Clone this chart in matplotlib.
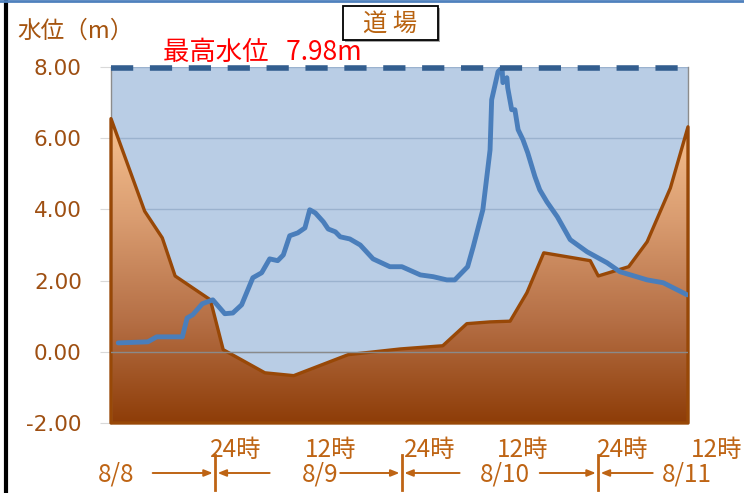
import numpy as np
import matplotlib
matplotlib.use('Agg')
import matplotlib.pyplot as plt
from matplotlib.colors import LinearSegmentedColormap
from matplotlib.patches import Polygon, Rectangle
from matplotlib.lines import Line2D
import matplotlib.transforms as mtransforms

plt.rcParams['font.family'] = ['DejaVu Sans', 'Noto Sans CJK JP']
JP = ['Noto Sans CJK JP', 'DejaVu Sans']

# ---- data (x in hours from 8/8 0:00) ----
hours = [11.9, 15.6, 16.7, 19.9, 20.5, 21.2, 22.4, 23.7, 25.2, 26.2, 27.3, 28.7,
         29.8, 30.8, 31.8, 32.5, 33.3, 34.3, 35.2, 35.8, 36.5, 37.5, 38.1, 39.0,
         39.6, 40.8, 42.1, 43.7, 45.8, 47.3, 49.6, 51.2, 52.9, 53.9, 55.5, 56.2,
         57.4, 58.3, 58.5, 59.3, 59.8, 59.9, 60.4, 60.5, 61.0, 61.4, 61.8, 62.4,
         63.0, 63.9, 64.5, 65.4, 66.7, 67.4, 68.3, 70.4, 72.9, 74.5, 77.9, 79.9, 82.9]
water_level = [0.25, 0.28, 0.42, 0.42, 0.95, 1.04, 1.35, 1.46, 1.07, 1.09, 1.32, 2.08,
               2.22, 2.61, 2.56, 2.72, 3.26, 3.34, 3.48, 3.99, 3.90, 3.65, 3.45, 3.37,
               3.23, 3.17, 3.00, 2.61, 2.39, 2.39, 2.16, 2.11, 2.02, 2.02, 2.39, 2.95,
               3.99, 5.67, 7.08, 7.87, 7.98, 7.56, 7.70, 7.42, 6.80, 6.80, 6.24, 5.96,
               5.59, 4.92, 4.55, 4.21, 3.79, 3.51, 3.15, 2.81, 2.50, 2.25, 2.02, 1.94, 1.60]

section_x = [11.0, 15.2, 17.4, 19.0, 23.4, 25.0, 30.2, 33.8, 40.6, 47.1, 52.4, 55.4,
             58.3, 60.8, 62.9, 65.0, 70.8, 71.8, 75.6, 77.9, 80.8, 83.0]
ground_level = [6.55, 3.95, 3.20, 2.13, 1.46, 0.06, -0.59, -0.67, -0.08, 0.08, 0.17, 0.79,
                0.84, 0.86, 1.66, 2.78, 2.56, 2.13, 2.39, 3.09, 4.60, 6.32]

max_level = 7.98
y_ticks = [-2, 0, 2, 4, 6, 8]
y_tick_labels = ['-2.00', '0.00', '2.00', '4.00', '6.00', '8.00']

time_labels = ['24時', '12時', '24時', '12時', '24時', '12時']
time_label_x = [23.4, 35.2, 47.5, 59.2, 71.6, 83.4]
date_labels = ['8/8', '8/9', '8/10', '8/11']
date_label_x = [11.6, 37.1, 60.2, 82.8]
day_bounds = [24.0, 47.3, 71.8]

W, H = 744, 493
fig = plt.figure(figsize=(W / 100, H / 100), dpi=100)
ax = fig.add_axes([111 / W, 1 - 423 / H, 577 / W, 356 / H])
ax.set_facecolor('#B9CDE5')
ax.set_xlim(11, 83)
ax.set_ylim(-2, 8)

# gradient ground fill
verts = [(section_x[0], -2)] + list(zip(section_x, ground_level)) + [(section_x[-1], -2)]
clip = Polygon(verts, closed=True, facecolor='none', edgecolor='none')
ax.add_patch(clip)
grad = np.linspace(0, 1, 256).reshape(-1, 1)
cmap = LinearSegmentedColormap.from_list('g', ['#8E3D08', '#B56F45', '#D99C70', '#F8C290'])
im = ax.imshow(grad, extent=[11, 83, -2, max(ground_level)], origin='lower', cmap=cmap,
               aspect='auto', zorder=2, interpolation='bilinear')
im.set_clip_path(clip)
outline = Polygon(verts, closed=True, fill=False, edgecolor='#984807', lw=2.4, zorder=3,
                  joinstyle='round', clip_on=False)
ax.add_patch(outline)

ax.set_yticks(y_ticks)
ax.set_yticklabels(y_tick_labels)
ax.yaxis.grid(True, color='#9BB2CE', lw=1)
ax.set_axisbelow(True)
ax.axhline(0, color='#8A8A8A', lw=1, zorder=3.5)

ax.plot(hours, water_level, color='#4A7EBB', lw=3.5, zorder=4,
        solid_joinstyle='round', solid_capstyle='round')
ax.plot([11, 83], [max_level, max_level], color='#335E8F', lw=4, dashes=(4, 3),
        zorder=5, clip_on=False)

ax.tick_params(axis='y', length=8, color='#D9D9D9', direction='out', pad=13,
               labelsize=15.5, labelcolor='#9E4F12')
ax.tick_params(axis='x', bottom=False, labelbottom=False)
for s in ['top', 'bottom']:
    ax.spines[s].set_visible(False)
for s in ['left', 'right']:
    ax.spines[s].set_color('#8C8C8C')
    ax.spines[s].set_linewidth(1)

# texts
fig.text(17 / W, 1 - 31 / H, '水位（m）', family=JP, fontsize=17, color='#A5540F',
         ha='left', va='center')
fig.text(163 / W, 1 - 52 / H, '最高水位   7.98m', family=JP, fontsize=19, color='#FF0000',
         ha='left', va='center')
# title box with shadow
fig.add_artist(Rectangle((345 / W, 1 - 42 / H), 95 / W, 34 / H, transform=fig.transFigure,
                         facecolor='#A6A6A6', edgecolor='none'))
fig.add_artist(Rectangle((343 / W, 1 - 40 / H), 95 / W, 34 / H, transform=fig.transFigure,
                         facecolor='white', edgecolor='black', lw=1.3))
fig.text(390 / W, 1 - 24 / H, '道 場', family=JP, fontsize=17.5, color='#B8620F',
         ha='center', va='center')

# bottom time annotations
tr = mtransforms.blended_transform_factory(ax.transData, fig.transFigure)
acol = '#BE6414'
for x, t in zip(time_label_x, time_labels):
    fig.text(x, 1 - 450 / H, t, transform=tr, family=JP, fontsize=17.5, color=acol,
             ha='left', va='center', clip_on=False)
for x, t in zip(date_label_x, date_labels):
    fig.text(x, 1 - 474 / H, t, transform=tr, family=JP, fontsize=17.5, color=acol,
             ha='center', va='center', clip_on=False)
ya = 1 - 473 / H
arrow_left_start = [16.2, 39.6, 64.5]
arrow_right_start = [30.8, 54.5, 78.6]
for i, b in enumerate(day_bounds):
    fig.add_artist(Line2D([b, b], [1 - 455 / H, 1 - 490 / H], transform=tr, color=acol, lw=2))
    ax.annotate('', xy=(b - 0.3, ya), xytext=(arrow_left_start[i], ya), xycoords=tr, textcoords=tr,
                arrowprops=dict(arrowstyle='-|>,head_length=0.5,head_width=0.2', color=acol, lw=1.4,
                                shrinkA=0, shrinkB=0), annotation_clip=False)
    ax.annotate('', xy=(b + 0.3, ya), xytext=(arrow_right_start[i], ya), xycoords=tr, textcoords=tr,
                arrowprops=dict(arrowstyle='-|>,head_length=0.5,head_width=0.2', color=acol, lw=1.4,
                                shrinkA=0, shrinkB=0), annotation_clip=False)

# slide frame lines
fig.add_artist(Line2D([6 / W, 6 / W], [0, 1], color='black', lw=3))
fig.add_artist(Line2D([0, 1], [1 - 1 / H, 1 - 1 / H], color='#4F81BD', lw=2))

fig.savefig('out.png', dpi=100)
